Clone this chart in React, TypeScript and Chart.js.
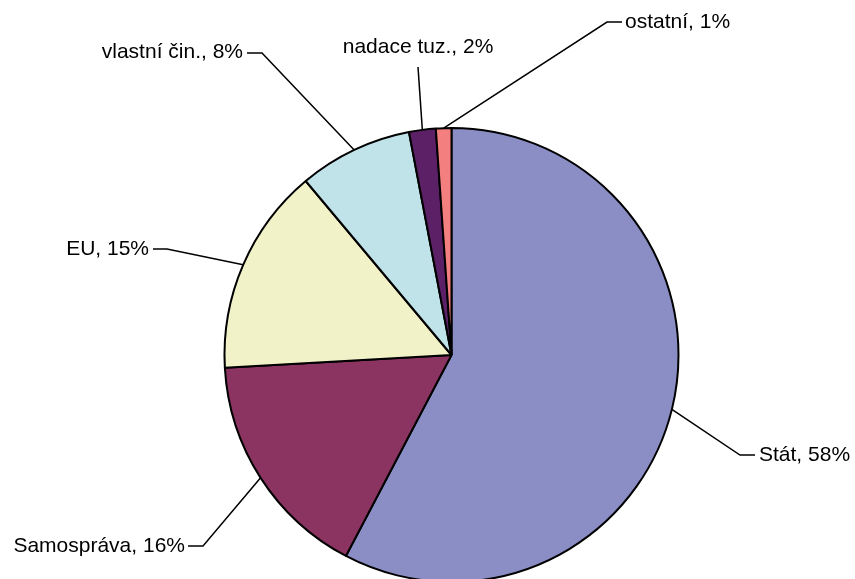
import React, { useEffect, useRef } from "react";
import { Chart, registerables } from "chart.js";

Chart.register(...registerables);

// Data
const CATEGORIES = ["Stát", "Samospráva", "EU", "vlastní čin.", "nadace tuz.", "ostatní"];
const VALUES = [57.7, 16.4, 14.8, 8.1, 1.9, 1.1];
const COLORS = ["#8A8EC5", "#8B3462", "#F2F2C8", "#BFE3E8", "#5B2065", "#F47F7F"];

// Label placement (layout only)
type LabelLayout = {
  textX: number;
  textY: number;
  align: CanvasTextAlign;
  path: [number, number][]; // points after the slice edge point
};
const LABEL_LAYOUT: LabelLayout[] = [
  { textX: 759, textY: 455, align: "left", path: [[740, 455], [755, 455]] },
  { textX: 185, textY: 546, align: "right", path: [[203, 546], [188, 546]] },
  { textX: 149, textY: 249, align: "right", path: [[167, 249], [153, 249]] },
  { textX: 243, textY: 52, align: "right", path: [[262, 53], [247, 53]] },
  { textX: 418, textY: 47, align: "center", path: [[418, 67]] },
  { textX: 625, textY: 22, align: "left", path: [[607, 22], [622, 22]] },
];

const labelPlugin = {
  id: "pieLabels",
  afterDraw(chart: any) {
    const ctx: CanvasRenderingContext2D = chart.ctx;
    const meta = chart.getDatasetMeta(0);
    const data: number[] = chart.data.datasets[0].data;
    const total = data.reduce((a, b) => a + b, 0);
    ctx.save();
    ctx.font = "21px 'Liberation Sans', Arial, sans-serif";
    ctx.fillStyle = "#000";
    ctx.strokeStyle = "#000";
    ctx.lineWidth = 1.5;
    ctx.textBaseline = "middle";
    meta.data.forEach((arc: any, i: number) => {
      const lay = LABEL_LAYOUT[i];
      if (!lay) return;
      const mid = (arc.startAngle + arc.endAngle) / 2;
      const ex = arc.x + Math.cos(mid) * arc.outerRadius;
      const ey = arc.y + Math.sin(mid) * arc.outerRadius;
      ctx.beginPath();
      ctx.moveTo(ex, ey);
      lay.path.forEach(([px, py]) => ctx.lineTo(px, py));
      ctx.stroke();
      const pct = Math.round((data[i] / total) * 100);
      ctx.textAlign = lay.align;
      ctx.fillText(`${chart.data.labels[i]}, ${pct}%`, lay.textX, lay.textY);
    });
    ctx.restore();
  },
};

export default function App() {
  const ref = useRef<HTMLCanvasElement | null>(null);
  useEffect(() => {
    if (!ref.current) return;
    const chart = new Chart(ref.current, {
      type: "pie",
      data: {
        labels: CATEGORIES,
        datasets: [
          {
            data: VALUES,
            backgroundColor: COLORS,
            borderColor: "#000",
            borderWidth: 2,
            radius: 227,
          } as any,
        ],
      },
      options: {
        animation: false,
        responsive: false,
        devicePixelRatio: 1,
        layout: { padding: { left: 48, right: 0, top: 110, bottom: 0 } },
        plugins: {
          legend: { display: false },
          tooltip: { enabled: false },
        },
      },
      plugins: [labelPlugin],
    });
    return () => chart.destroy();
  }, []);
  return (
    <div
      style={{
        position: "fixed",
        left: 0,
        top: 0,
        width: 855,
        height: 579,
        overflow: "hidden",
        background: "#fff",
      }}
    >
      <canvas ref={ref} width={855} height={600} style={{ display: "block" }} />
    </div>
  );
}
